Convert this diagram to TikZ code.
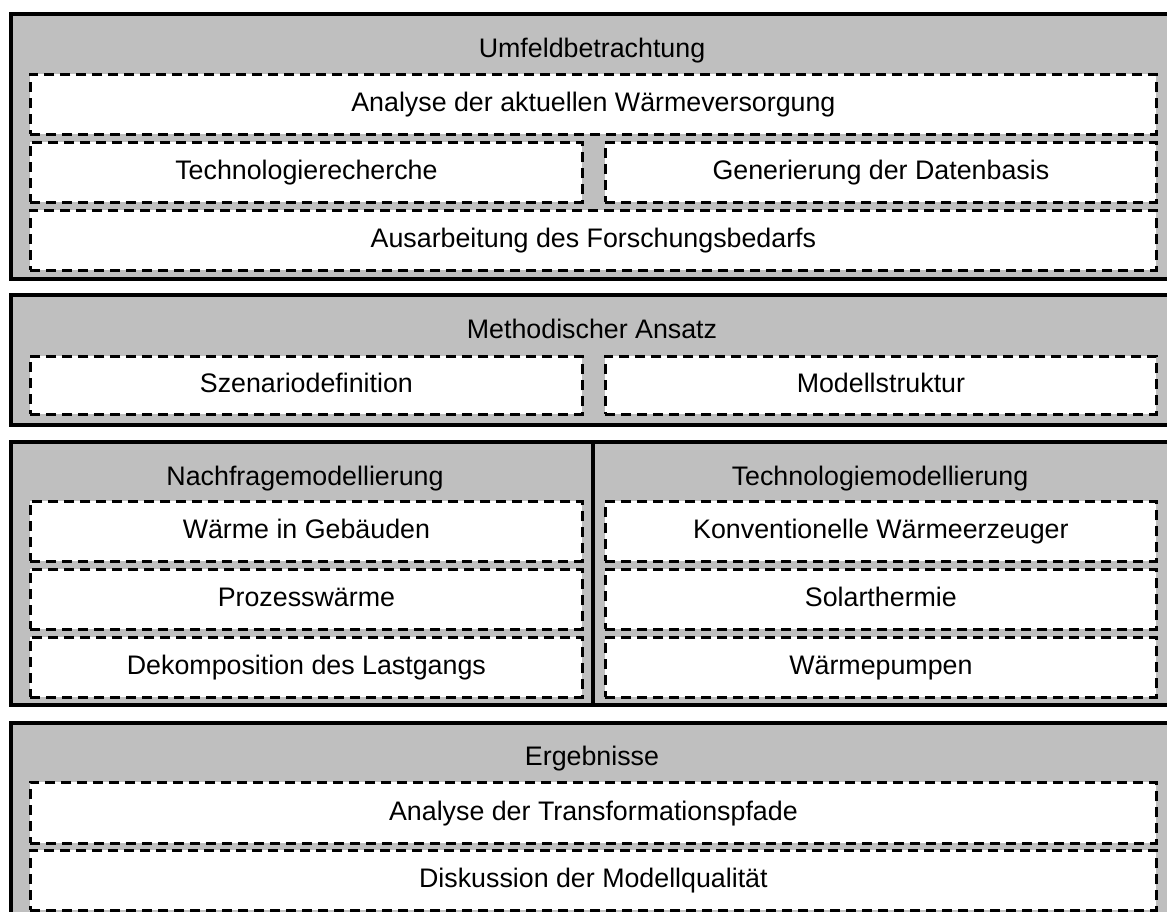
\documentclass[tikz,border=0pt]{standalone}
\usepackage{fontspec}
\setmainfont{Liberation Sans}
\usetikzlibrary{fit}
\definecolor{boxGray}{gray}{0.75}
\definecolor{mainBlack}{gray}{0}

\tikzset{
    phase/.style={draw=mainBlack, fill=boxGray, line width=2pt, inner sep=0pt},
    teil/.style={draw=mainBlack, fill=white, line width=1.4pt, dash pattern=on 5pt off 3pt,
        inner sep=0pt, minimum height=30pt, anchor=north west,
        text height=0.72em, text depth=0pt},
    breit/.style={teil, minimum width=563pt},
    halb/.style={teil, minimum width=276pt},
    titel/.style={text height=0.72em, text depth=0pt}
}

\begin{document}
\begin{tikzpicture}[x=0.5pt, y=-0.5pt, font=\fontsize{13.4}{16}\selectfont]
    \useasboundingbox (0,0) rectangle (1167,911);
    \clip (0,0) rectangle (1167,911);

    % Umfeldbetrachtung
    \node[phase, fit={(11,14) (1172,279)}] (umfeld) {};
    \node[titel] (umfeldTitel) at (592,50) {Umfeldbetrachtung};
    \node[breit] (analyse) at (29,73) {Analyse der aktuellen Wärmeversorgung};
    \node[halb] (recherche) at (29,141) {Technologierecherche};
    \node[halb, minimum width=275.5pt] (datenbasis) at (604,141) {Generierung der Datenbasis};
    \node[breit] (bedarf) at (29,209) {Ausarbeitung des Forschungsbedarfs};

    % Methodischer Ansatz
    \node[phase, fit={(11,295) (1172,425)}] (methodik) {};
    \node[titel] (methodikTitel) at (592,331) {Methodischer Ansatz};
    \node[halb, minimum height=29pt] (szenario) at (29,355) {Szenariodefinition};
    \node[halb, minimum width=275.5pt, minimum height=29pt] (struktur) at (604,355) {Modellstruktur};

    % Nachfrage- und Technologiemodellierung
    \node[phase, fit={(11,442) (593,705)}] (nachfrage) {};
    \node[phase, fit={(593,442) (1172,705)}] (technologie) {};
    \node[titel] (nachfrageTitel) at (305,478) {Nachfragemodellierung};
    \node[titel] (technologieTitel) at (880,478) {Technologiemodellierung};
    \node[halb] (gebaeude) at (29,500) {Wärme in Gebäuden};
    \node[halb] (prozess) at (29,568) {Prozesswärme};
    \node[halb] (lastgang) at (29,636) {Dekomposition des Lastgangs};
    \node[halb, minimum width=275.5pt] (konventionell) at (604,500) {Konventionelle Wärmeerzeuger};
    \node[halb, minimum width=275.5pt] (solar) at (604,568) {Solarthermie};
    \node[halb, minimum width=275.5pt] (pumpen) at (604,636) {Wärmepumpen};

    % Ergebnisse
    \node[phase, fit={(11,723) (1172,940)}] (ergebnisse) {};
    \node[titel] (ergebnisseTitel) at (592,758) {Ergebnisse};
    \node[breit, minimum height=30.5pt] (pfade) at (29,781) {Analyse der Transformationspfade};
    \node[breit] (qualitaet) at (29,849) {Diskussion der Modellqualität};
\end{tikzpicture}
\end{document}
